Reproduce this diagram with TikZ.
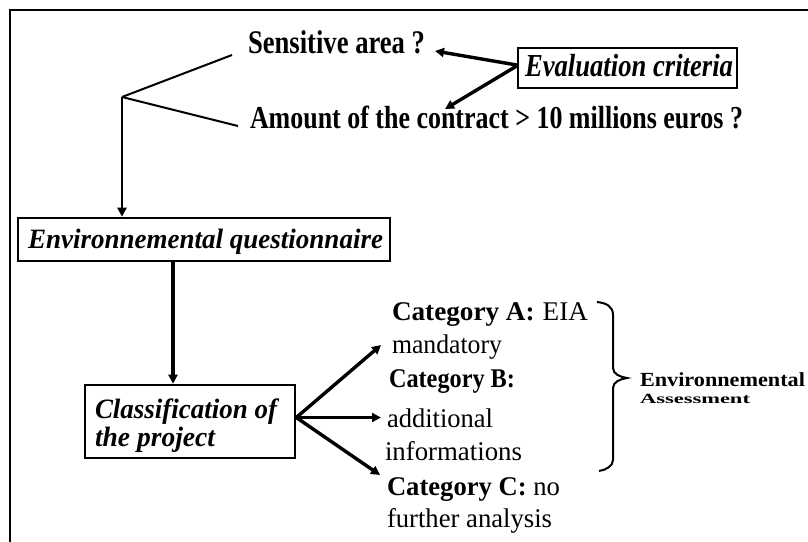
\documentclass[tikz,border=0pt]{standalone}
\usepackage{fontspec}
\setmainfont{Liberation Serif}
\usepackage{graphicx}
\usetikzlibrary{arrows.meta}
\newcommand{\fitw}[2]{\resizebox{#1}{\height}{#2}}
\tikzset{
  txt/.style={anchor=base west, inner sep=0pt, outer sep=0pt},
  boxnode/.style={draw, line width=2.6pt, inner sep=0pt},
  arr/.style={line width=3.4pt, -{Triangle[length=9pt,width=9pt]}},
  thinline/.style={line width=2pt},
}
\begin{document}
\begin{tikzpicture}[x=1pt,y=-1pt]
\useasboundingbox (0,0) rectangle (808,541);
% frame
\draw[line width=2.6pt] (10,560) -- (10,10) -- (830,10);

% top texts
\node[txt] (sens) at (248,53) {\fontsize{33}{36}\selectfont\bfseries\fitw{177pt}{Sensitive area ?}};
\node[txt] (amt) at (250,128) {\fontsize{32}{36}\selectfont\bfseries\fitw{493pt}{Amount of the contract > 10 millions euros ?}};

% evaluation criteria
\node[boxnode, minimum width=219pt, minimum height=40pt] (eval) at (627.5,68) {};
\node[txt] (evalt) at (525,76) {\fontsize{32}{34}\selectfont\bfseries\itshape\fitw{208pt}{Evaluation criteria}};

% environmental questionnaire
\node[boxnode, minimum width=372pt, minimum height=43pt] (env) at (204,239.5) {};
\node[txt] (envt) at (28,248) {\fontsize{28}{30}\selectfont\bfseries\itshape\fitw{355pt}{Environnemental questionnaire}};

% classification
\node[boxnode, minimum width=210pt, minimum height=73pt] (cls) at (190,421.5) {};
\node[txt] (clst1) at (95,418) {\fontsize{28}{30}\selectfont\bfseries\itshape\fitw{182pt}{Classification of}};
\node[txt] (clst2) at (95,446) {\fontsize{28}{30}\selectfont\bfseries\itshape\fitw{120pt}{the project}};

% categories
\node[txt] (catA) at (392,320) {\fontsize{27}{30}\selectfont\fitw{196pt}{\textbf{Category A:}\hspace{8pt}EIA}};
\node[txt] (mand) at (392,353) {\fontsize{27}{30}\selectfont\fitw{110pt}{mandatory}};
\node[txt] (catB) at (389,387) {\fontsize{27}{30}\selectfont\fitw{126pt}{\textbf{Category B:}}};
\node[txt] (addi) at (387,427) {\fontsize{27}{30}\selectfont\fitw{106pt}{additional}};
\node[txt] (info) at (385,460) {\fontsize{27}{30}\selectfont\fitw{137pt}{informations}};
\node[txt] (catC) at (387,495) {\fontsize{27}{30}\selectfont\fitw{173pt}{\textbf{Category C:} no}};
\node[txt] (furt) at (387,527) {\fontsize{27}{30}\selectfont\fitw{165pt}{further analysis}};

% environmental assessment
\node[txt] (enva) at (640,386) {\fontsize{20}{22}\selectfont\bfseries\fitw{165pt}{Environnemental}};
\node[txt] (asse) at (640,403) {\fontsize{14}{16}\selectfont\bfseries\fitw{110pt}{Assessment}};

% coordinates
\coordinate (J) at (122,97);
\coordinate (s1) at (232,55);
\coordinate (s2) at (238,126);
\coordinate (c173) at (173,0);
\coordinate (tS) at (435,51);
\coordinate (tA) at (445,109);
\coordinate (tCA) at (381,345);
\coordinate (tCB) at (381,417.5);
\coordinate (tCC) at (380,475);

% connectors
\draw[thinline] (J) -- (s1);
\draw[thinline] (J) -- (s2);
\draw[arr, line width=2.4pt] (J) -- (J |- env.north);
\draw[arr] (env.south -| c173) -- (cls.north -| c173);
\draw[arr] ([yshift=3pt]eval.west) -- (tS);
\draw[arr] ([yshift=2pt]eval.west) -- (tA);
\draw[arr] ([yshift=4pt]cls.east) -- (tCA);
\draw[arr] ([yshift=4pt]cls.east) -- (tCB);
\draw[arr] ([yshift=4pt]cls.east) -- (tCC);

% brace
\draw[thinline] (597,302) .. controls (606,303) and (613,306) .. (613,315) -- (613,368)
  .. controls (613,374) and (620,377) .. (627,378)
  .. controls (620,379) and (613,382) .. (613,388) -- (613,460)
  .. controls (613,466) and (606,470) .. (599,471);
\end{tikzpicture}
\end{document}
